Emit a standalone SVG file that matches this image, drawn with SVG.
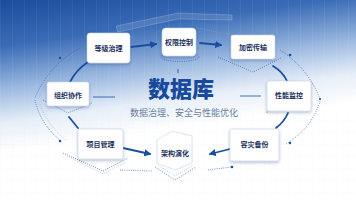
<svg xmlns="http://www.w3.org/2000/svg" width="356" height="200" viewBox="0 0 356 200">
<defs>
<linearGradient id="bg" x1="0" y1="0" x2="0.25" y2="1">
<stop offset="0" stop-color="#1a4c9e"/>
<stop offset="0.22" stop-color="#3a6cb6"/>
<stop offset="0.42" stop-color="#9ab8e0"/>
<stop offset="0.58" stop-color="#e6eef8"/>
<stop offset="0.72" stop-color="#ffffff"/>
</linearGradient>
<pattern id="grid" width="12" height="12" patternUnits="userSpaceOnUse">
<path d="M0 0V12" stroke="#ffffff" stroke-opacity="0.18" stroke-width="0.6"/>
</pattern>
<pattern id="grid2" width="12" height="12" patternUnits="userSpaceOnUse">
<path d="M0 0V12M0 0H12" stroke="#dfe6f0" stroke-opacity="0.5" stroke-width="0.5"/>
</pattern>
<filter id="sh" x="-30%" y="-30%" width="160%" height="170%">
<feDropShadow dx="0" dy="1.5" stdDeviation="1.5" flood-color="#0d2f6e" flood-opacity="0.3"/>
</filter>
<marker id="ah" viewBox="0 0 10 10" refX="8" refY="5" markerWidth="4" markerHeight="4" orient="auto">
<path d="M0 0L10 5L0 10z" fill="#1a4fa0"/>
</marker>
<style>
.box{fill:#ffffff;stroke:#c5d2e6;stroke-width:0.6;filter:url(#sh)}
.lbl{font-family:"Noto Sans CJK SC","Noto Sans",sans-serif;font-size:7px;font-weight:bold;fill:#1b2f5c;text-anchor:middle}
.dot{fill:none;stroke:#2a5aa6;stroke-width:0.8;stroke-dasharray:0.8 1.4}
.dotl{fill:none;stroke:#8fa8cc;stroke-width:0.7;stroke-dasharray:0.8 1.4}
.arr{fill:none;stroke:#1a4fa0;stroke-width:1.8;stroke-linecap:round}
.bd{fill:#1a4fa0}
</style>
</defs>
<rect width="356" height="200" fill="#ffffff"/>
<rect width="356" height="200" fill="url(#bg)"/>
<rect width="356" height="110" fill="url(#grid)"/>
<rect y="110" width="356" height="90" fill="url(#grid2)"/>
<polygon points="116,26 178,13 232,15 232,20 178,19 118,32" fill="#ffffff" fill-opacity="0.12" stroke="#ffffff" stroke-opacity="0.3" stroke-width="0.6"/>

<g id="connectors">
<path class="dot" d="M80 48 Q48 66 35 98"/>
<path class="dotl" d="M76 52 Q50 70 39 98"/>
<circle class="bd" cx="60" cy="58" r="1.2"/>
<path class="dot" d="M35 100 Q40 124 62 142"/>
<path class="dotl" d="M40 104 Q48 126 66 140"/>
<circle class="bd" cx="60" cy="141" r="1.2"/>
<path class="dot" d="M280 50 Q308 68 320 99"/>
<circle class="bd" cx="290" cy="55" r="1.3"/>
<circle class="bd" cx="320" cy="99" r="1.1"/>
<path class="dot" d="M320 101 Q312 128 286 144"/>
<circle class="bd" cx="290" cy="143" r="1.2"/>
<path class="dot" d="M120 170 L152 171"/>
<path class="dot" d="M208 170 L231 167"/>
<circle class="bd" cx="232" cy="167" r="1.3"/>
<path class="dotl" d="M198 28 L231 35"/>
<path class="arr" d="M131 47 L156 44" marker-end="url(#ah)"/>
<path class="arr" d="M200 43 L221 45" marker-end="url(#ah)"/>
<path class="arr" d="M273 66 Q283 72 287 81"/>
<path class="arr" d="M288 113 Q284 122 276 128"/>
<path class="arr" d="M230 149 L210 154" marker-end="url(#ah)"/>
<path class="arr" d="M123 148 L150 154" marker-end="url(#ah)"/>
<path class="arr" d="M69 117 L78 128"/>
<path class="arr" d="M70 82 Q76 70 88 62"/>
<line x1="93" y1="97" x2="115" y2="97" stroke="#1a4fa0" stroke-width="0.8"/>
<line x1="240" y1="96" x2="261" y2="96" stroke="#1a4fa0" stroke-width="0.8"/>
<line x1="178" y1="69" x2="178" y2="73" stroke="#1a4fa0" stroke-width="0.8"/>
<circle class="bd" cx="267" cy="112" r="0.6"/>
</g>

<g id="center">
<text x="181" y="97" font-family="'Noto Sans CJK SC',sans-serif" font-size="22" font-weight="900" fill="#174a9c" text-anchor="middle">数据库</text>
<text x="184" y="116" font-family="'Noto Sans CJK SC',sans-serif" font-size="9" fill="#6b7f9e" text-anchor="middle">数据治理、安全与性能优化</text>
</g>

<g id="n1">
<rect class="box" x="87" y="33" width="43" height="30" rx="3"/>
<text class="lbl" x="108.5" y="51">等级治理</text>
</g>
<g id="n2">
<ellipse class="dot" cx="180" cy="57" rx="19" ry="4.5"/>
<rect class="box" x="162" y="28" width="34" height="28" rx="4"/>
<text class="lbl" x="179" y="45">权限控制</text>
</g>
<g id="n3">
<polyline class="dot" points="218,57 253,72 281,58"/>
<polyline class="dotl" points="222,55 253,68 276,56"/>
<rect class="box" x="231" y="35" width="44" height="24" rx="2"/>
<text class="lbl" x="253" y="50">加密传输</text>
</g>
<g id="n4">
<rect class="box" x="267" y="81" width="44" height="30" rx="2"/>
<text class="lbl" x="289" y="98">性能监控</text>
</g>
<g id="n5">
<rect class="box" x="230" y="129" width="49" height="32" rx="2"/>
<text class="lbl" x="254.5" y="147">容灾备份</text>
</g>
<g id="n6">
<polyline class="dot" points="155,167 175,180 196,167"/>
<polyline class="dotl" points="158,165 175,176 193,165"/>
<polygon points="172,131 192,136 192,163 175,170 157,163 157,140" fill="#ffffff" fill-opacity="0.7" stroke="#c5d2e6" stroke-width="0.6"/>
<text class="lbl" x="175" y="156">架构演化</text>
</g>
<g id="n7">
<polyline class="dot" points="63,153 103,171 128,158"/>
<polyline class="dotl" points="67,156 103,174 126,162"/>
<rect class="box" x="78" y="129" width="45" height="30" rx="2"/>
<text class="lbl" x="100.5" y="147">项目管理</text>
</g>
<g id="n8">
<polyline class="dot" points="43,100 68,113 92,103"/>
<rect class="box" x="47" y="82" width="42" height="24" rx="2"/>
<text class="lbl" x="68" y="98">组织协作</text>
</g>
</svg>
